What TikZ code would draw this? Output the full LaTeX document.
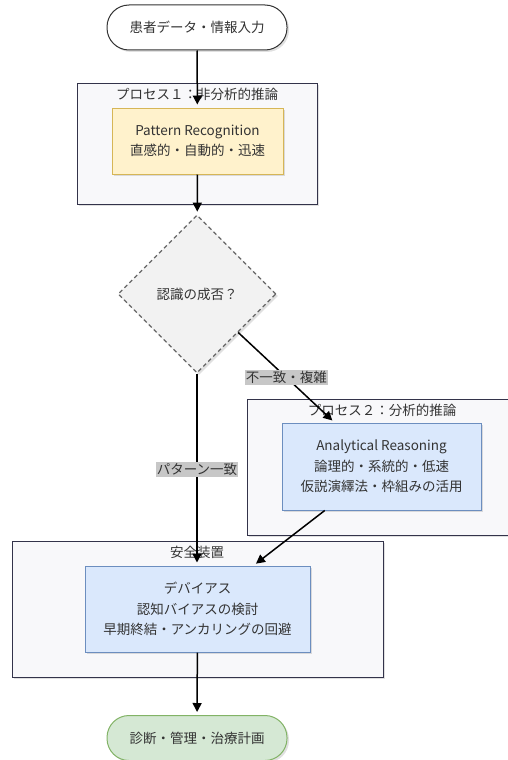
\documentclass[tikz,border=0pt]{standalone}
\usepackage{fontspec}
\setmainfont{Noto Sans CJK JP}
\usetikzlibrary{shapes.geometric,arrows.meta,shadows}

\definecolor{txtgray}{HTML}{333333}
\definecolor{clfill}{HTML}{F8F8FA}
\definecolor{cldraw}{HTML}{33334A}
\definecolor{yelfill}{HTML}{FFF2CC}
\definecolor{yeldraw}{HTML}{D6B656}
\definecolor{bluefill}{HTML}{DAE8FC}
\definecolor{bluedraw}{HTML}{6C8EBF}
\definecolor{grnfill}{HTML}{D5E8D4}
\definecolor{grndraw}{HTML}{82B366}

\tikzset{
  jp/.style={font=\fontsize{13.5}{20.5}\selectfont, text=txtgray},
  shade/.style={drop shadow={shadow xshift=2pt, shadow yshift=-2pt, opacity=0.12, fill=black}},
  cluster/.style={draw=cldraw, fill=clfill, line width=1pt, shade},
  title/.style={jp, inner sep=0pt},
  terminal/.style={jp, draw=black!80, fill=white, line width=1pt, rounded corners=22pt,
    minimum width=180pt, minimum height=45pt, shade},
  fastbox/.style={jp, align=center, draw=yeldraw, fill=yelfill, line width=1pt, shade},
  slowbox/.style={jp, align=center, draw=bluedraw, fill=bluefill, line width=1pt, shade},
  decision/.style={jp, diamond, draw=black!60, dashed, dash pattern=on 4pt off 3pt,
    fill=black!5, line width=1.2pt, minimum width=158pt, minimum height=158pt, shade},
  flow/.style={-{Triangle[length=9pt,width=9pt]}, line width=1.5pt, shorten >=3pt},
  edgelabel/.style={jp, fill=black!22, inner sep=1pt}
}

\begin{document}
\begin{tikzpicture}[x=1pt, y=-1pt]
  \useasboundingbox (0,0) rectangle (508,760);

  % clusters
  \node[cluster, minimum width=240pt, minimum height=121pt] (proc1) at (197,143.5) {};
  \node[cluster, minimum width=263pt, minimum height=136pt] (proc2) at (378.5,467) {};
  \node[cluster, minimum width=371pt, minimum height=136pt] (safe) at (197.5,609) {};
  \node[title] (proc1title) at (197,94) {プロセス１：非分析的推論};
  \node[title] (proc2title) at (382,410) {プロセス２：分析的推論};
  \node[title] (safetitle) at (197,552) {安全装置};

  % nodes
  \node[terminal] (start) at (197,27.5) {患者データ・情報入力};
  \node[fastbox, minimum width=171pt, minimum height=66pt] (pattern) at (197.5,141)
    {Pattern Recognition\\直感的・自動的・迅速};
  \node[decision] (check) at (197,294) {認識の成否？};
  \node[slowbox, minimum width=199pt, minimum height=87pt] (analytic) at (381.5,466.5)
    {Analytical Reasoning\\論理的・系統的・低速\\仮説演繹法・枠組みの活用};
  \node[slowbox, minimum width=225pt, minimum height=86pt] (debias) at (197.5,609)
    {デバイアス\\認知バイアスの検討\\早期終結・アンカリングの回避};
  \node[terminal, draw=grndraw, fill=grnfill] (goal) at (197,738) {診断・管理・治療計画};

  % connectors
  \draw[flow] (start) -- (pattern);
  \draw[flow] (pattern) -- (check);
  \draw[flow] (check) -- node[edgelabel] {不一致・複雑} (analytic);
  \draw[flow] (check) -- node[edgelabel] {パターン一致} (check |- debias.north);
  \draw[flow] (analytic) -- (debias);
  \draw[flow] (debias) -- (goal);
\end{tikzpicture}
\end{document}
